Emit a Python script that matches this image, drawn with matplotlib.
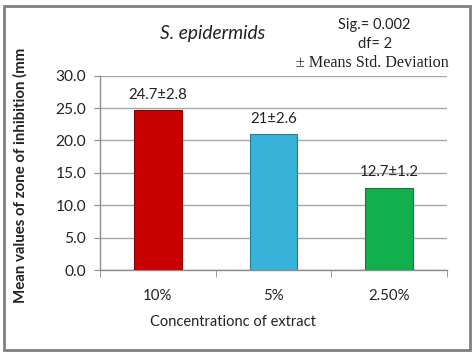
import matplotlib
matplotlib.use("Agg")
import matplotlib.pyplot as plt
from matplotlib.patches import Rectangle

categories = ["10%", "5%", "2.50%"]
means = [24.7, 21.0, 12.7]
labels = ["24.7±2.8", "21±2.6", "12.7±1.2"]
y_ticks = [0, 5, 10, 15, 20, 25, 30]
colors = ["#C80000", "#38B2D8", "#12B04C"]
edges = ["#8E0000", "#1F7FA0", "#0A8035"]

plt.rcParams['font.family'] = ['Lato', 'DejaVu Sans']

fig = plt.figure(figsize=(4.76, 3.56), dpi=100)
fig.patch.set_facecolor("white")
fig.add_artist(Rectangle((4/476, 6/356), 466/476, 344/356, transform=fig.transFigure,
                         fill=False, edgecolor="#808080", linewidth=2.0))

ax = fig.add_axes([100/476, 1-270/356, 347/476, (270-75.7)/356])
x = list(range(len(categories)))
bars = ax.bar(x, means, width=0.41, color=colors, edgecolor=edges, linewidth=0.8, zorder=3)

for xi, m, lab in zip(x, means, labels):
    ax.annotate(lab, (xi, m), xytext=(0, 6), textcoords="offset points",
                ha="center", va="bottom", fontsize=10.8, color="#222222")

ax.set_xlim(-0.5, 2.5)
ax.set_ylim(0, 30)
ax.set_yticks(y_ticks)
ax.set_yticklabels([f"{v:.1f}" for v in y_ticks], fontsize=11.2, color="#222222")
ax.set_xticks(x)
ax.set_xticklabels(categories, fontsize=10.8, color="#222222")
ax.set_xticks([-0.5, 0.5, 1.5, 2.5], minor=True)
ax.tick_params(axis="x", which="major", length=0, pad=14)
ax.tick_params(axis="x", which="minor", length=5, color="#8C8C8C", direction="out")
ax.tick_params(axis="y", length=4, color="#8C8C8C", pad=6)
ax.grid(axis="y", color="#A6A6A6", linewidth=1.0, zorder=0)
for s in ["top", "right"]:
    ax.spines[s].set_visible(False)
for s in ["left", "bottom"]:
    ax.spines[s].set_color("#8C8C8C")
    ax.spines[s].set_linewidth(1.0)

fig.text(213/476, 1-33/356, "S. epidermids", ha="center", va="center",
         fontsize=13.8, style="italic", color="#222222")
fig.text(374/476, 1-25/356, "Sig.= 0.002", ha="center", va="center", fontsize=10.5, color="#222222")
fig.text(375/476, 1-44/356, "df= 2", ha="center", va="center", fontsize=10.5, color="#222222")
fig.text(372/476, 1-63/356, "± Means Std. Deviation", ha="center", va="center",
         fontsize=11.6, family=["Liberation Serif", "DejaVu Serif"], color="#222222")
fig.text(20/476, 1-175/356, "Mean values of zone of inhibition (mm", rotation=90,
         ha="center", va="center", fontsize=10.8, fontweight="bold", color="#222222")
fig.text(233/476, 1-322/356, "Concentrationc of extract", ha="center", va="center",
         fontsize=10.5, color="#222222")

fig.savefig("out.png", dpi=100)
